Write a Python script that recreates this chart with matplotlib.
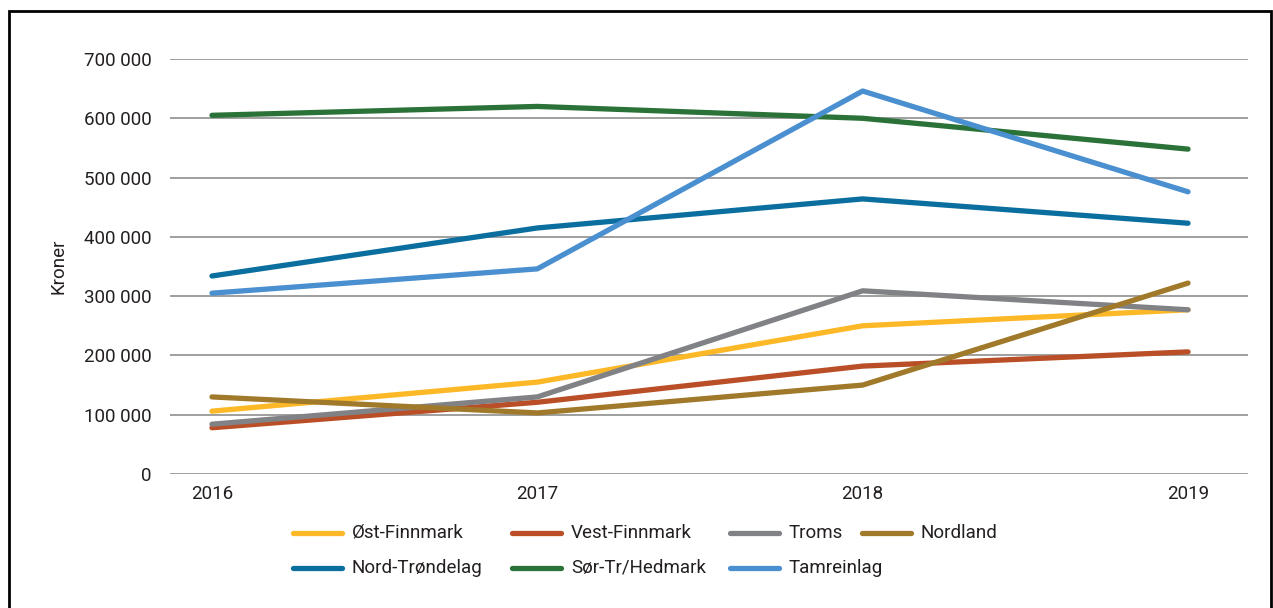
import matplotlib.pyplot as plt
from matplotlib.lines import Line2D
from matplotlib.patches import Rectangle
from matplotlib.ticker import FuncFormatter

plt.rcParams['font.family'] = ['Roboto', 'DejaVu Sans']

# Data (kroner per år)
years = [2016, 2017, 2018, 2019]
ost_finnmark = [106000, 155000, 250000, 277000]
vest_finnmark = [78000, 121000, 182000, 206000]
troms = [84000, 130000, 309000, 277000]
nordland = [130000, 103000, 150000, 322000]
nord_trondelag = [334000, 415000, 464000, 423000]
sor_tr_hedmark = [605000, 620000, 600000, 548000]
tamreinlag = [305000, 346000, 646000, 476000]

series = [
    ("Øst-Finnmark", ost_finnmark, "#FDB827"),
    ("Vest-Finnmark", vest_finnmark, "#B94E27"),
    ("Troms", troms, "#818285"),
    ("Nordland", nordland, "#A07A2A"),
    ("Nord-Trøndelag", nord_trondelag, "#0A6E9F"),
    ("Sør-Tr/Hedmark", sor_tr_hedmark, "#2A7238"),
    ("Tamreinlag", tamreinlag, "#4A8FCF"),
]

W, H = 1273, 608
fs = 13.5
fig = plt.figure(figsize=(W / 100, H / 100), dpi=100)
ax = fig.add_axes([170 / W, 1 - 474 / H, (1248 - 170) / W, (474 - 59) / H])

for navn, verdier, farge in series:
    ax.plot(years, verdier, color=farge, lw=3.8, solid_capstyle="round",
            solid_joinstyle="round", label=navn, zorder=3)

tekstfarge = "#231F20"
ax.set_ylim(0, 700000)
ax.set_yticks(range(0, 700001, 100000))
ax.yaxis.set_major_formatter(FuncFormatter(lambda v, p: f"{int(v):,}".replace(",", " ")))
ax.set_xlim(2016 - 42 / 325.5, 2019 + 60 / 325.5)
ax.set_xticks(years)
ax.grid(axis="y", color="#858585", lw=1.1, zorder=1)
for s in ax.spines.values():
    s.set_visible(False)
ax.tick_params(length=0, labelsize=fs, colors=tekstfarge)
ax.tick_params(axis="y", pad=13)
ax.tick_params(axis="x", pad=8)
ax.set_ylabel("Kroner", fontsize=fs, color=tekstfarge, labelpad=12)

# Legende, plassert manuelt
leg_x = [293, 512, 730, 862, 293, 512, 730]
leg_y = [533, 533, 533, 533, 568, 568, 568]
for (navn, _, farge), lx, ly in zip(series, leg_x, leg_y):
    fig.add_artist(Line2D([lx / W, (lx + 49) / W], [1 - ly / H, 1 - ly / H],
                          color=farge, lw=3.8, solid_capstyle="round"))
    fig.text((lx + 59) / W, 1 - ly / H, navn, fontsize=fs, color=tekstfarge,
              va="center", ha="left")

# Ramme rundt figuren
fig.add_artist(Rectangle((9 / W, -0.02), (W - 11) / W, 1 - 11 / H + 0.02,
                         transform=fig.transFigure, fill=False, lw=2, ec="black"))

fig.savefig("out.png", dpi=100)
